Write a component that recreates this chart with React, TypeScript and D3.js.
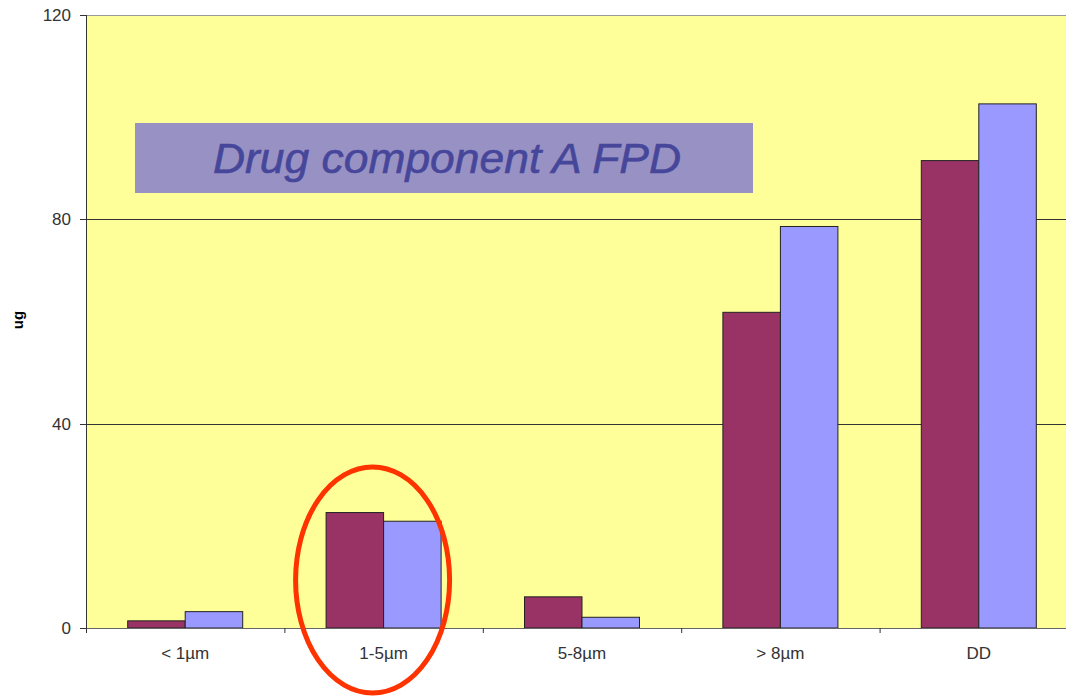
import * as d3 from "d3";

const categories = ["< 1µm", "1-5µm", "5-8µm", "> 8µm", "DD"];
const seriesNames = ["A", "B"];
const seriesA = [1.4, 22.6, 6.1, 61.8, 91.5];
const seriesB = [3.2, 20.9, 2.1, 78.6, 102.6];
const yTicks = [0, 40, 80, 120];
const colors = ["#993366", "#9999ff"];

const width = 1066;
const height = 698;
const left = 86;
const right = 1078;
const top = 15;
const bottom = 628;

const App = () => {
  const x0 = d3.scaleBand().domain(categories).range([left, right]).padding(0);
  const x1 = d3
    .scaleBand()
    .domain(seriesNames)
    .range([0, x0.bandwidth()])
    .paddingInner(0)
    .paddingOuter(0.725);
  const y = d3.scaleLinear().domain([0, 120]).range([bottom, top]);

  const values = [seriesA, seriesB];
  const font = "'Liberation Sans', Arial, sans-serif";

  // boundaries between categories for tick marks
  const boundaries = categories.map(c => x0(c)).concat([right]);

  const hl = x0("1-5µm") + x0.bandwidth() / 2 - 11;

  return (
    <svg
      width={width}
      height={height}
      style={{ position: "absolute", left: 0, top: 0 }}
      fontFamily={font}
    >
      <rect x={0} y={0} width={width} height={height} fill="#fff" />
      <rect x={left} y={top} width={right - left} height={bottom - top} fill="#ffff99" />
      <line x1={left} x2={right} y1={top + 0.5} y2={top + 0.5} stroke="#999" />
      {yTicks.filter(t => t > 0 && t < 120).map(t => (
        <line key={t} x1={left} x2={right} y1={Math.round(y(t)) + 0.5} y2={Math.round(y(t)) + 0.5} stroke="#333" />
      ))}

      {/* title box */}
      <rect x={135} y={123} width={618} height={70} fill="#9891c4" />
      <text
        x={447}
        y={173}
        textAnchor="middle"
        fontSize={43}
        fontStyle="italic"
        fill="#46469a"
        stroke="#46469a"
        strokeWidth={0.6}
        textLength={468}
        lengthAdjust="spacingAndGlyphs"
      >
        Drug component A FPD
      </text>

      {categories.map((c, i) => (
        <g key={c} transform={`translate(${x0(c)},0)`}>
          {seriesNames.map((s, j) => (
            <rect
              key={s}
              x={x1(s)}
              y={y(values[j][i])}
              width={x1.bandwidth()}
              height={y(0) - y(values[j][i])}
              fill={colors[j]}
              stroke="#222"
              strokeWidth={1}
            />
          ))}
        </g>
      ))}

      {/* axes */}
      <line x1={left + 0.5} x2={left + 0.5} y1={top} y2={bottom} stroke="#333" />
      <line x1={left} x2={right} y1={bottom + 0.5} y2={bottom + 0.5} stroke="#666" />
      {yTicks.map(t => (
        <g key={t}>
          <line x1={left - 6} x2={left} y1={Math.round(y(t)) + 0.5} y2={Math.round(y(t)) + 0.5} stroke="#333" />
          <text x={left - 15} y={y(t) + 6} textAnchor="end" fontSize={17} fill="#333">
            {t}
          </text>
        </g>
      ))}
      {boundaries.map((b, i) => (
        <line key={i} x1={b + 0.5} x2={b + 0.5} y1={bottom} y2={bottom + 5} stroke="#333" />
      ))}
      {categories.map(c => (
        <text
          key={c}
          x={x0(c) + x0.bandwidth() / 2}
          y={659}
          textAnchor="middle"
          fontSize={17}
          fill="#333"
        >
          {c}
        </text>
      ))}
      <text
        transform={`translate(23,320) rotate(-90)`}
        textAnchor="middle"
        fontSize={15}
        fontWeight="bold"
        fill="#000"
      >
        ug
      </text>

      {/* highlight */}
      <ellipse cx={hl} cy={580} rx={77} ry={113} fill="none" stroke="#ff3300" strokeWidth={5} />
    </svg>
  );
};

export default App;
